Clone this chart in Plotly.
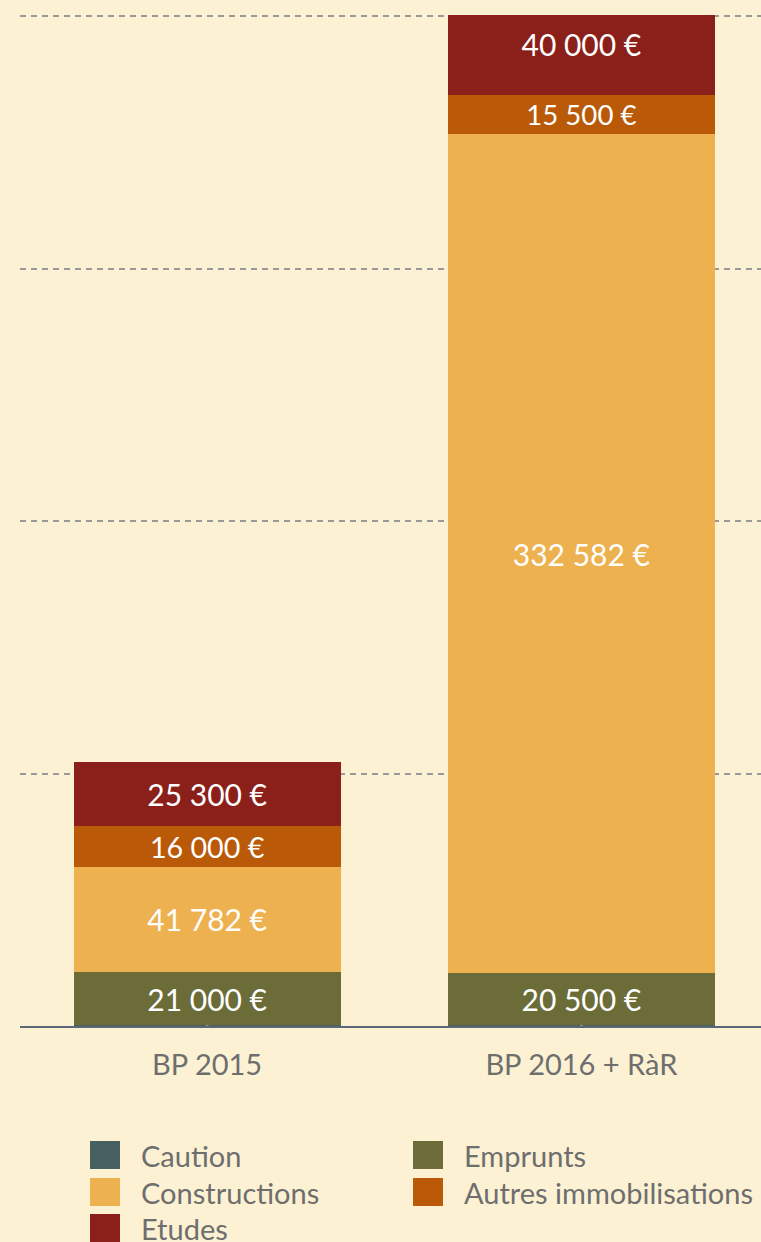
import plotly.graph_objects as go

categories = ["BP 2015", "BP 2016 + RàR"]
series_names = ["Caution", "Emprunts", "Constructions", "Autres immobilisations", "Etudes"]
caution = [300, 300]
emprunts = [21000, 20500]
constructions = [41782, 332582]
autres = [16000, 15500]
etudes = [25300, 40000]
series_values = [caution, emprunts, constructions, autres, etudes]
colors = ["#48605f", "#6b6c38", "#eeb14f", "#ba5a08", "#8a2019"]

FONT = "Lato, 'Open Sans', sans-serif"
BG = "#fcf2d3"
W, H = 761, 1242
ML, MR, MT, MB = 20, 0, 15, 216


def fmt(v):
    return f"{v:,}".replace(",", " ") + " €"


fig = go.Figure()
for name, vals, col in zip(series_names, series_values, colors):
    fig.add_trace(go.Bar(
        x=categories, y=vals, name=name, marker=dict(color=col, line=dict(width=0)),
        text=[fmt(v) for v in vals], textposition="inside", insidetextanchor="middle",
        textfont=dict(color="white", size=30, family=FONT), showlegend=False,
        hoverinfo="skip",
    ))

# manual legend (large swatches), row-major in 2 columns
plot_w = W - ML - MR
plot_h = H - MT - MB
col_x = [90, 413]
row_y = [1155, 1192, 1228]
shapes, annotations = [], []
px = lambda p: (p - ML) / plot_w
py = lambda p: (H - MB - p) / plot_h
for i, (name, col) in enumerate(zip(series_names, colors)):
    r, c = divmod(i, 2)
    x0 = col_x[c]
    yc = row_y[r]
    shapes.append(dict(type="rect", xref="paper", yref="paper",
                       x0=px(x0), x1=px(x0 + 30), y0=py(yc - 14), y1=py(yc + 14),
                       fillcolor=col, line=dict(width=0)))
    annotations.append(dict(xref="paper", yref="paper", x=px(x0 + 49), y=py(yc),
                            xanchor="left", yanchor="middle", text=name, showarrow=False,
                            font=dict(size=29, color="#6e6e6e", family=FONT)))

fig.update_layout(
    barmode="stack", bargap=0.286,
    width=W, height=H,
    margin=dict(l=ML, r=MR, t=MT, b=MB),
    paper_bgcolor=BG, plot_bgcolor=BG,
    font=dict(family=FONT, color="#6e6e6e"),
    shapes=shapes, annotations=annotations,
)
fig.update_xaxes(range=[-0.5, 1.48], showline=True, linecolor="#5b6678", linewidth=2,
                 ticks="", tickfont=dict(size=29, color="#6e6e6e", family=FONT),
                 ticklabelstandoff=12, showgrid=False, fixedrange=True)
fig.update_yaxes(range=[0, 400400], dtick=100000, showticklabels=False, showline=False,
                 zeroline=False, gridcolor="#999999", gridwidth=2, griddash="6px,5px",
                 fixedrange=True)

fig.write_html("out.html", config={"displayModeBar": False},
               post_script="document.body.style.margin='0';document.body.style.overflow='hidden';")
